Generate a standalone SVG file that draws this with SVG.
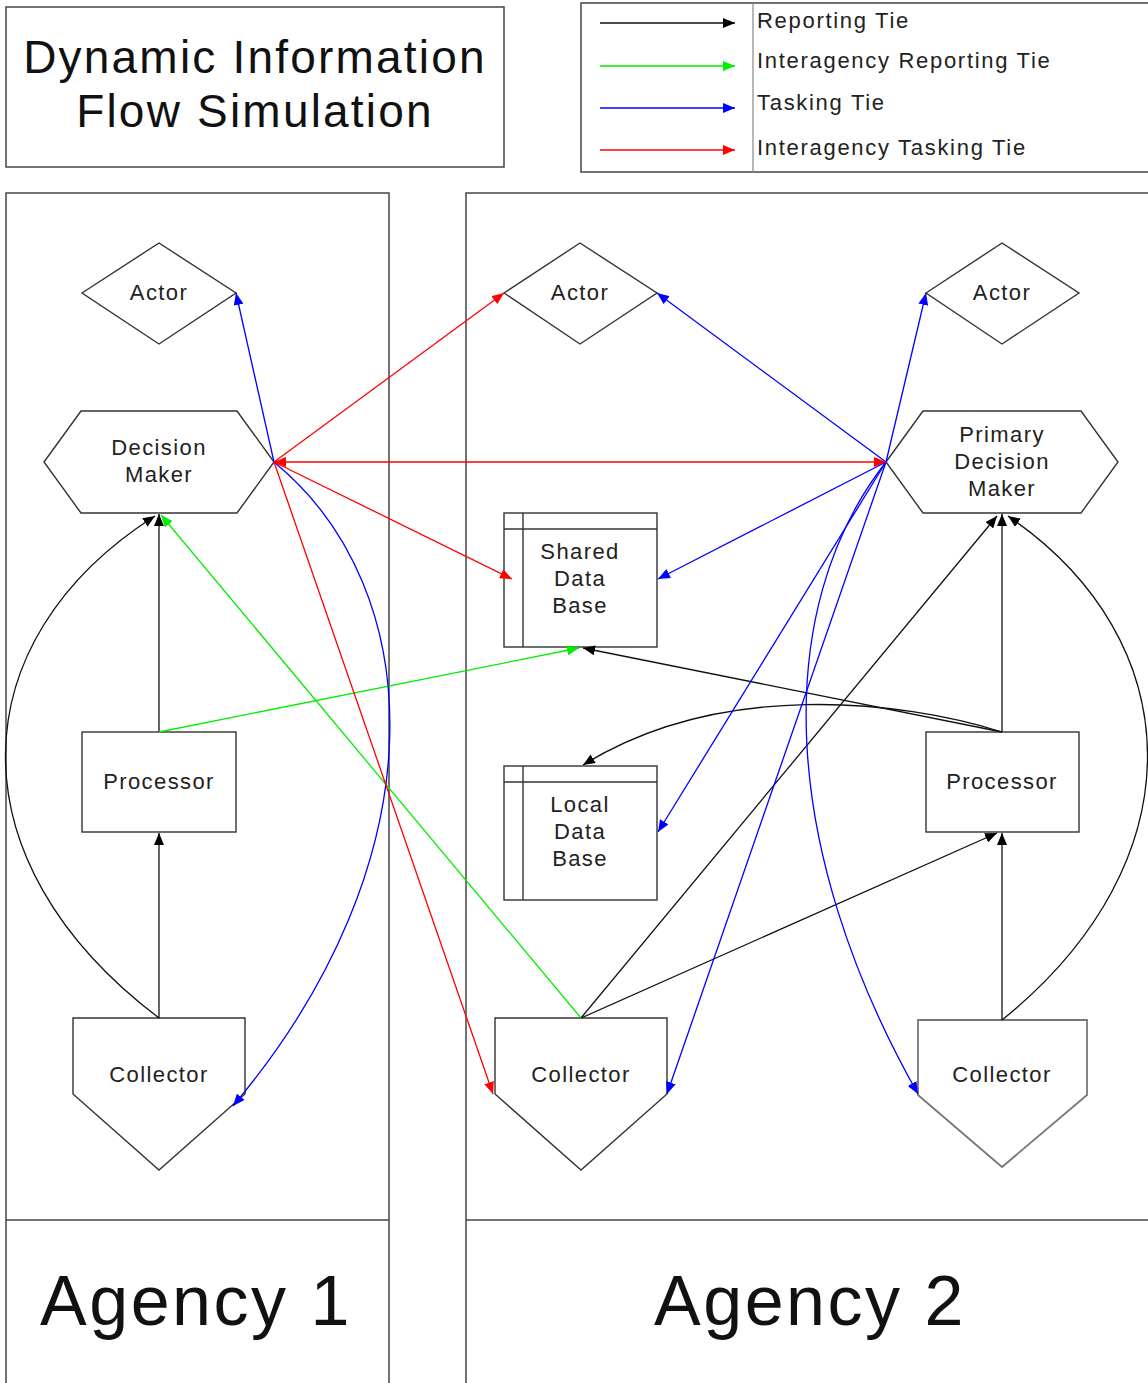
<svg xmlns="http://www.w3.org/2000/svg" width="1148" height="1383" viewBox="0 0 1148 1383">
<style>
.frame{fill:#fff;stroke:#444;stroke-width:1.5}
.node{fill:#fff;stroke:#333;stroke-width:1.4}
.gnode{fill:#fff;stroke:#777;stroke-width:1.8}
.lbl{font-family:"Liberation Sans",Arial,sans-serif;font-size:22px;letter-spacing:1.4px;fill:#222;text-anchor:middle}
.leg{font-family:"Liberation Sans",Arial,sans-serif;font-size:22px;letter-spacing:1.7px;fill:#222}
.title{font-family:"Liberation Sans",Arial,sans-serif;font-size:46px;letter-spacing:2.2px;fill:#111;text-anchor:middle}
.agency{font-family:"Liberation Sans",Arial,sans-serif;font-size:70px;letter-spacing:2.5px;fill:#111;text-anchor:middle}
.rep{fill:none;stroke:#111;stroke-width:1.3;marker-end:url(#ak)}
.irep{fill:none;stroke:#00ee00;stroke-width:1.3;marker-end:url(#ag)}
.task{fill:none;stroke:#0000ff;stroke-width:1.3;marker-end:url(#ab)}
.itask{fill:none;stroke:#ff0000;stroke-width:1.3;marker-end:url(#ar)}
</style>
<defs>
<marker id="ak" markerUnits="userSpaceOnUse" viewBox="0 0 12 10" refX="12" refY="5" markerWidth="12" markerHeight="10" orient="auto-start-reverse"><path d="M0,0 L12,5 L0,10 z" fill="#000"/></marker>
<marker id="ag" markerUnits="userSpaceOnUse" viewBox="0 0 12 10" refX="12" refY="5" markerWidth="12" markerHeight="10" orient="auto-start-reverse"><path d="M0,0 L12,5 L0,10 z" fill="#00ee00"/></marker>
<marker id="ab" markerUnits="userSpaceOnUse" viewBox="0 0 12 10" refX="12" refY="5" markerWidth="12" markerHeight="10" orient="auto-start-reverse"><path d="M0,0 L12,5 L0,10 z" fill="#0000ff"/></marker>
<marker id="ar" markerUnits="userSpaceOnUse" viewBox="0 0 12 10" refX="12" refY="5" markerWidth="12" markerHeight="10" orient="auto-start-reverse"><path d="M0,0 L12,5 L0,10 z" fill="#ff0000"/></marker>
</defs>
<rect width="1148" height="1383" fill="#fff"/>

<g id="title">
<rect class="frame" x="6" y="7" width="498" height="160"/>
<text class="title" x="255" y="73">Dynamic Information</text>
<text class="title" x="255" y="127">Flow Simulation</text>
</g>

<g id="legend">
<rect class="frame" x="581" y="3" width="590" height="169"/>
<line x1="753" y1="3" x2="753" y2="172" stroke="#888" stroke-width="1.2"/>
<line class="rep" x1="600" y1="23" x2="735" y2="23"/>
<line class="irep" x1="600" y1="66" x2="735" y2="66"/>
<line class="task" x1="600" y1="108" x2="735" y2="108"/>
<line class="itask" x1="600" y1="150" x2="735" y2="150"/>
<text class="leg" x="757" y="28">Reporting Tie</text>
<text class="leg" x="757" y="68">Interagency Reporting Tie</text>
<text class="leg" x="757" y="110">Tasking Tie</text>
<text class="leg" x="757" y="155">Interagency Tasking Tie</text>
</g>

<g id="agency1">
<rect class="frame" x="6" y="193" width="383" height="1200"/>
<line x1="6" y1="1220" x2="389" y2="1220" stroke="#444" stroke-width="1.5"/>
<text class="agency" x="196" y="1325">Agency 1</text>
</g>
<g id="agency2">
<rect class="frame" x="466" y="193" width="700" height="1200"/>
<line x1="466" y1="1220" x2="1166" y2="1220" stroke="#444" stroke-width="1.5"/>
<text class="agency" x="810" y="1325">Agency 2</text>
</g>

<g id="actor1">
<polygon class="node" points="82,293 159,243 236,293 159,344"/>
<text class="lbl" x="159" y="300">Actor</text>
</g>
<g id="actor2">
<polygon class="node" points="504,293 580,243 657,293 580,344"/>
<text class="lbl" x="580" y="300">Actor</text>
</g>
<g id="actor3">
<polygon class="node" points="926,293 1002,243 1079,293 1002,344"/>
<text class="lbl" x="1002" y="300">Actor</text>
</g>

<g id="decision-maker">
<polygon class="node" points="44,462 81,411 237,411 274,462 237,513 81,513"/>
<text class="lbl" x="159" y="455">Decision</text>
<text class="lbl" x="159" y="482">Maker</text>
</g>
<g id="primary-decision-maker">
<polygon class="node" points="886,462 923,411 1081,411 1118,462 1081,513 923,513"/>
<text class="lbl" x="1002" y="442">Primary</text>
<text class="lbl" x="1002" y="469">Decision</text>
<text class="lbl" x="1002" y="496">Maker</text>
</g>

<g id="shared-db">
<rect class="node" x="504" y="513" width="153" height="134"/>
<line x1="523" y1="513" x2="523" y2="647" stroke="#333" stroke-width="1.4"/>
<line x1="504" y1="529" x2="657" y2="529" stroke="#333" stroke-width="1.4"/>
<text class="lbl" x="580" y="559">Shared</text>
<text class="lbl" x="580" y="586">Data</text>
<text class="lbl" x="580" y="613">Base</text>
</g>
<g id="local-db">
<rect class="node" x="504" y="766" width="153" height="134"/>
<line x1="523" y1="766" x2="523" y2="900" stroke="#333" stroke-width="1.4"/>
<line x1="504" y1="782" x2="657" y2="782" stroke="#333" stroke-width="1.4"/>
<text class="lbl" x="580" y="812">Local</text>
<text class="lbl" x="580" y="839">Data</text>
<text class="lbl" x="580" y="866">Base</text>
</g>

<g id="processor1">
<rect class="node" x="82" y="732" width="154" height="100"/>
<text class="lbl" x="159" y="789">Processor</text>
</g>
<g id="processor2">
<rect class="node" x="926" y="732" width="153" height="100"/>
<text class="lbl" x="1002" y="789">Processor</text>
</g>

<g id="collector1">
<polygon class="node" points="73,1018 245,1018 245,1094 159,1170 73,1094"/>
<text class="lbl" x="159" y="1082">Collector</text>
</g>
<g id="collector2">
<polygon class="node" points="495,1018 667,1018 667,1094 581,1170 495,1094"/>
<text class="lbl" x="581" y="1082">Collector</text>
</g>
<g id="collector3">
<polygon class="gnode" points="918,1020 1087,1020 1087,1095 1002,1167 918,1095"/>
<text class="lbl" x="1002" y="1082">Collector</text>
</g>

<g id="connectors">
<path class="rep" d="M159,732 L159,514"/>
<path class="rep" d="M159,1018 L159,833"/>
<path class="rep" d="M159,1018 C-50,860 -40,640 155,516"/>
<path class="rep" d="M1002,732 L1002,514"/>
<path class="rep" d="M1002,1020 L1002,833"/>
<path class="rep" d="M1002,1020 C1200,860 1190,640 1008,516"/>
<path class="rep" d="M581,1018 L997,516"/>
<path class="rep" d="M581,1018 L997,833"/>
<path class="rep" d="M1002,732 L583,648"/>
<path class="rep" d="M1002,732 C900,700 720,680 583,765"/>
<path class="irep" d="M159,732 L579,648"/>
<path class="irep" d="M581,1018 L161,515"/>
<path class="task" d="M274,462 L236,293"/>
<path class="task" d="M274,462 C430,590 440,860 233,1106"/>
<path class="task" d="M886,462 L657,293"/>
<path class="task" d="M886,462 L926,293"/>
<path class="task" d="M886,462 L658,579"/>
<path class="task" d="M886,462 L658,832"/>
<path class="task" d="M886,462 L667,1094"/>
<path class="task" d="M886,462 C770,610 780,850 918,1094"/>
<path class="itask" d="M274,462 L504,293"/>
<path class="itask" d="M274,462 L886,462" style="marker-start:url(#ar)"/>
<path class="itask" d="M274,462 L512,579"/>
<path class="itask" d="M274,462 L493,1094"/>
</g>
</svg>
